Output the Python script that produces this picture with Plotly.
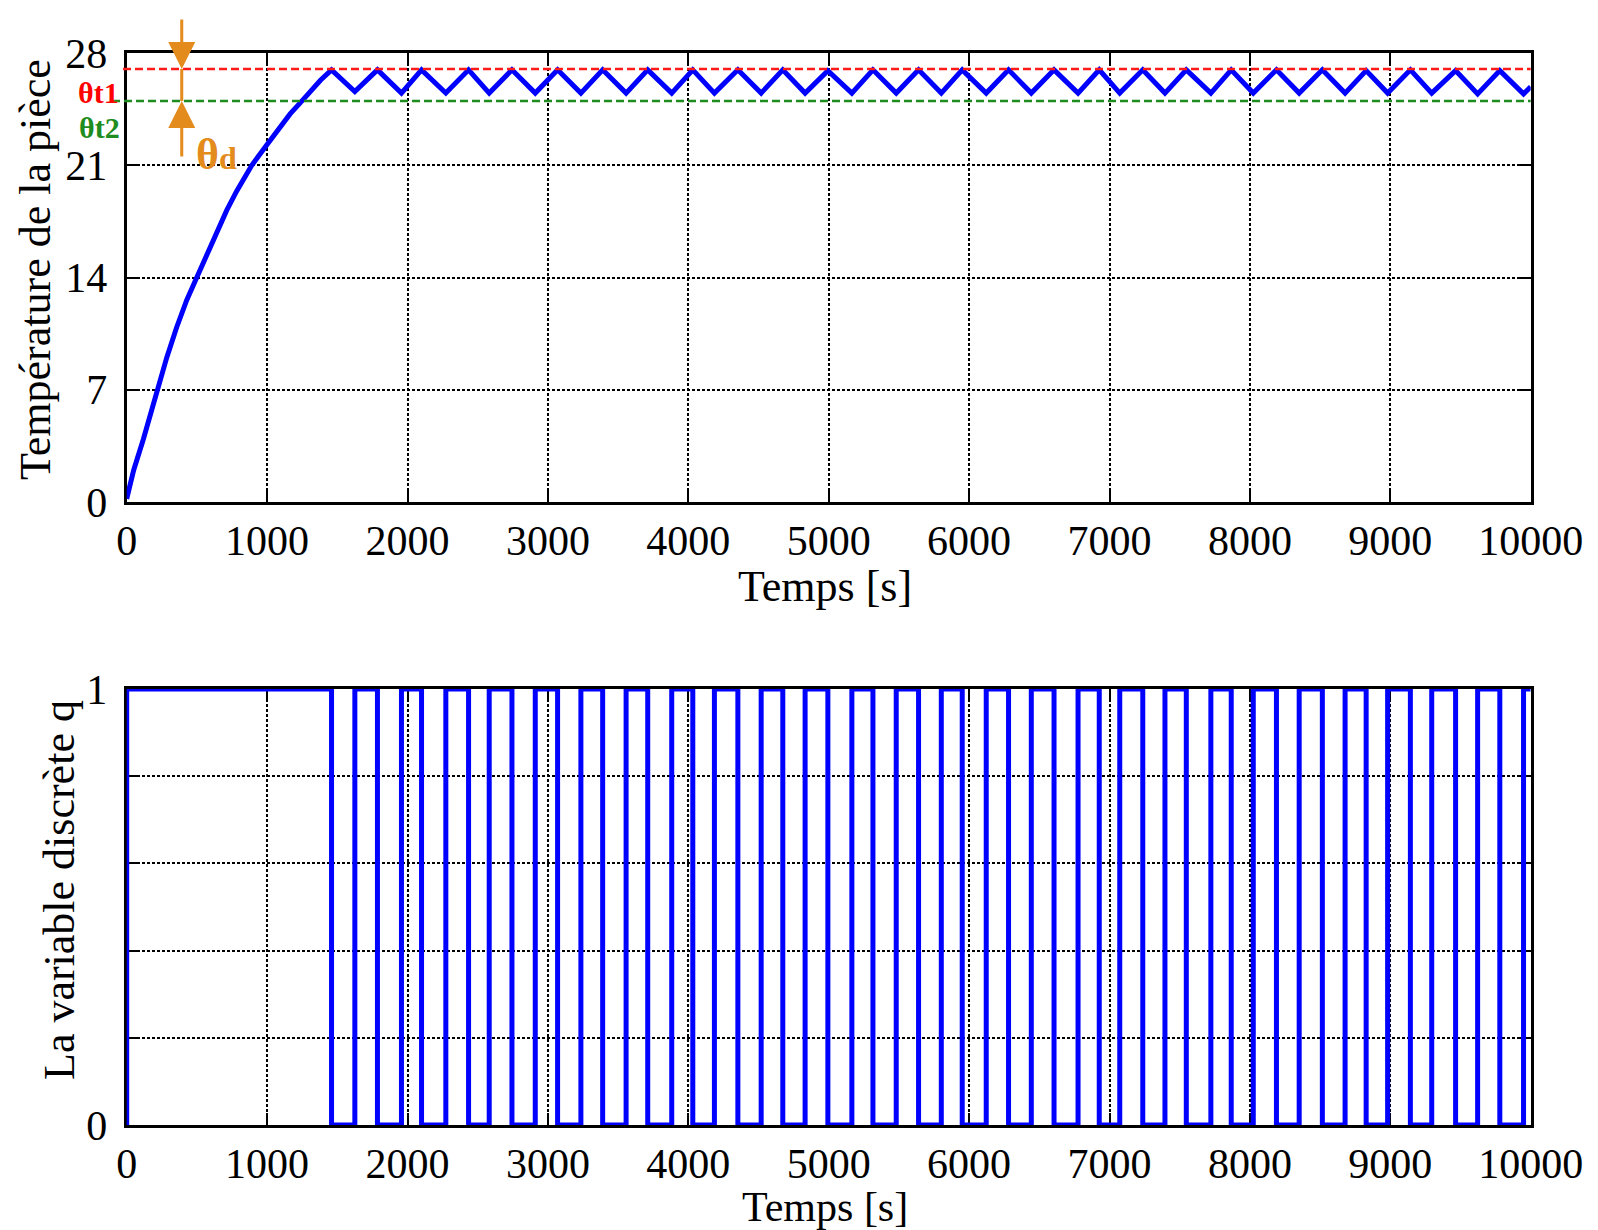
import plotly.graph_objects as go

# ---------------- data ----------------
# initial heating phase (time in s, temperature)
rise_t = [0, 50, 118, 214, 285, 356, 428, 499, 594, 713, 784, 891, 1000, 1100, 1164, 1247, 1306, 1380]
rise_T = [0.2, 2.0, 3.9, 7.0, 9.0, 10.9, 12.6, 14.0, 15.9, 18.2, 19.4, 21.0, 22.3, 23.5, 24.2, 25.0, 25.6, 26.3]

# switching instants (heater off = peaks, heater on = troughs)
t_off = [1459, 1786, 2100, 2435, 2744, 3069, 3390, 3711, 4032, 4353, 4673, 4994, 5315, 5640,
         5951, 6281, 6605, 6927, 7237, 7547, 7867, 8189, 8516, 8828, 9143, 9465, 9780]
t_on = [1625, 1957, 2273, 2582, 2910, 3235, 3557, 3882, 4186, 4519, 4832, 5165, 5481, 5802,
        6122, 6443, 6776, 7073, 7395, 7722, 8024, 8351, 8678, 8981, 9295, 9622, 9949]
peak_T = [26.95, 26.95, 26.95, 26.95, 26.95, 26.95, 26.95, 26.95, 26.95, 26.95, 26.95, 26.9, 26.95, 26.95,
          26.95, 26.95, 26.95, 26.95, 26.95, 26.95, 26.95, 26.95, 26.95, 26.9, 26.95, 26.9, 26.9]
trough_T = [25.6, 25.5, 25.5, 25.5, 25.5, 25.5, 25.5, 25.5, 25.5, 25.5, 25.5, 25.5, 25.5, 25.5,
            25.5, 25.5, 25.5, 25.5, 25.5, 25.5, 25.5, 25.5, 25.5, 25.5, 25.5, 25.45, 25.45]
t_end = 10000
T_end = 25.9

theta_t1 = 27
theta_t2 = 25
t_arrow = 392

x_ticks = [0, 1000, 2000, 3000, 4000, 5000, 6000, 7000, 8000, 9000, 10000]
x_ticktext = ["0", "1000", "2000", "3000", "4000", "5000", "6000", "7000", "8000", "9000", "10000"]
y1_ticks = [0, 7, 14, 21, 28]
y2_ticks = [0, 0.2, 0.4, 0.6, 0.8, 1]
y2_ticktext = ["0", "", "", "", "", "1"]

# ---------------- build series ----------------
temp_t = list(rise_t)
temp_T = list(rise_T)
for a, pa, b, tb in zip(t_off, peak_T, t_on, trough_T):
    temp_t += [a, b]
    temp_T += [pa, tb]
temp_t.append(t_end)
temp_T.append(T_end)

q_t = [0, 0]
q_v = [0, 1]
for a, b in zip(t_off, t_on):
    q_t += [a, b]
    q_v += [0, 1]
q_t.append(t_end)
q_v.append(1)

# ---------------- layout geometry ----------------
W, H = 1598, 1230
def px(x):
    return x / W
def py(y):
    return 1 - y / H

XL, XR = 126.7, 1530.7
TOP1, BOT1 = 53, 502
TOP2, BOT2 = 689, 1125

FONT = "Liberation Serif, Times New Roman, serif"
BLUE = "#0000FF"
ORANGE = "#E38B1C"

fig = go.Figure()
fig.add_trace(go.Scatter(x=temp_t, y=temp_T, mode="lines",
                         line=dict(color=BLUE, width=5), xaxis="x", yaxis="y",
                         showlegend=False))
fig.add_trace(go.Scatter(x=q_t, y=q_v, mode="lines", line_shape="hv",
                         line=dict(color=BLUE, width=5), xaxis="x2", yaxis="y2",
                         showlegend=False))

axis_common = dict(
    showline=True, linecolor="black", linewidth=3, mirror="ticks",
    ticks="inside", ticklen=12, tickwidth=2, tickcolor="black",
    showgrid=True, gridcolor="black", gridwidth=1.5, griddash="3px,2px",
    zeroline=False, tickfont=dict(family=FONT, size=42, color="black"),
    layer="below traces", automargin=False,
)

fig.update_layout(
    width=W, height=H,
    margin=dict(l=0, r=0, t=0, b=0),
    paper_bgcolor="white", plot_bgcolor="white",
    xaxis=dict(domain=[px(XL), px(XR)], range=[0, 10000], tickvals=x_ticks, ticktext=x_ticktext,
               anchor="y", ticklabelstandoff=0, **axis_common),
    yaxis=dict(domain=[py(BOT1), py(TOP1)], range=[0, 28], tickvals=y1_ticks,
               anchor="x", ticklabelstandoff=8, **axis_common),
    xaxis2=dict(domain=[px(XL), px(XR)], range=[0, 10000], tickvals=x_ticks, ticktext=x_ticktext,
                anchor="y2", ticklabelstandoff=0, **axis_common),
    yaxis2=dict(domain=[py(BOT2), py(TOP2)], range=[0, 1], tickvals=y2_ticks,
                ticktext=y2_ticktext, anchor="x2", ticklabelstandoff=8, **axis_common),
)

# threshold lines
fig.add_shape(type="line", xref="paper", yref="y", x0=px(123), x1=px(XR), y0=theta_t1, y1=theta_t1,
              line=dict(color="#FF1A1A", width=2.5, dash="8px,4px"), layer="above")
fig.add_shape(type="line", xref="paper", yref="y", x0=px(112), x1=px(XR), y0=theta_t2, y1=theta_t2,
              line=dict(color="#1E8C1E", width=2.5, dash="8px,4px"), layer="above")

# theta_d arrows
fig.add_shape(type="line", xref="x", yref="y", x0=t_arrow, x1=t_arrow, y0=theta_t2, y1=theta_t1,
              line=dict(color=ORANGE, width=3), layer="above")
fig.add_annotation(x=t_arrow, y=theta_t1, xref="x", yref="y", ax=0, ay=-51, text="",
                   showarrow=True, arrowhead=2, arrowsize=1.8, arrowwidth=3, arrowcolor=ORANGE)
fig.add_annotation(x=t_arrow, y=theta_t2, xref="x", yref="y", ax=0, ay=57, text="",
                   showarrow=True, arrowhead=2, arrowsize=1.8, arrowwidth=3, arrowcolor=ORANGE)

def label(text, x, y, size, color="black", angle=0):
    fig.add_annotation(x=px(x), y=py(y), xref="paper", yref="paper", text=text,
                       showarrow=False, textangle=angle, xanchor="center", yanchor="middle",
                       font=dict(family=FONT, size=size, color=color))

label("<b>θt1</b>", 98, 93, 30, "#FF0000")
label("<b>θt2</b>", 99, 127, 30, "#1E8C1E")
label("<b>θ<span style='font-size:32px'>d</span></b>", 216, 155, 44, ORANGE)

label("Temps [s]", 825, 586, 44)
label("Temps [s]", 825, 1207, 42)
label("Température de la pièce", 36, 270, 44, angle=-90)
label("La variable discrète q", 59, 890, 44, angle=-90)

fig.write_html("out.html")
